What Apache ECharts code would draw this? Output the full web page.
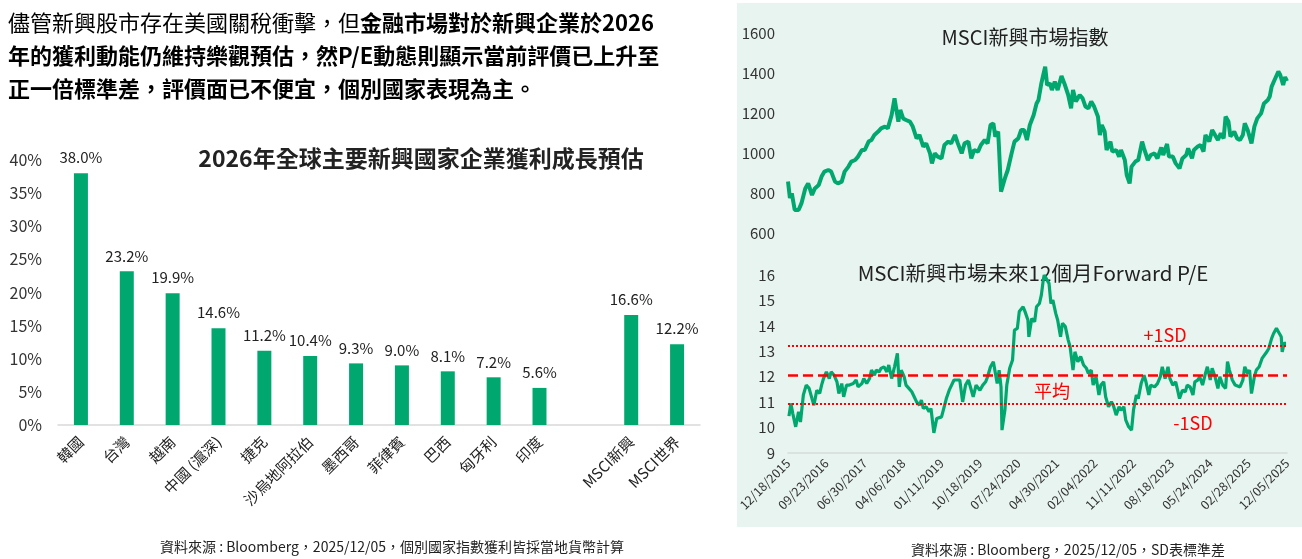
<!DOCTYPE html>
<html>
<head>
<meta charset="utf-8">
<script src="https://cdn.jsdelivr.net/npm/echarts@6/dist/echarts.min.js"></script>
<style>
  html, body { margin: 0; padding: 0; background: #fff; }
  #main { width: 1302px; height: 559px; }
</style>
</head>
<body>
<div id="main"></div>
<script>
  // 獲利成長預估 (%)
  var countries = ['韓國', '台灣', '越南', '中國 (滬深)', '捷克', '沙烏地阿拉伯', '墨西哥', '菲律賓', '巴西', '匈牙利', '印度', '', 'MSCI新興', 'MSCI世界'];
  var growth = [38.0, 23.2, 19.9, 14.6, 11.2, 10.4, 9.3, 9.0, 8.1, 7.2, 5.6, '-', 16.6, 12.2];

  // x 軸日期 (每 40 週一格)
  var dateLabels = ['12/18/2015', '09/23/2016', '06/30/2017', '04/06/2018', '01/11/2019', '10/18/2019', '07/24/2020',
    '04/30/2021', '02/04/2022', '11/11/2022', '08/18/2023', '05/24/2024', '02/28/2025', '12/05/2025'];

  // MSCI新興市場指數 [週數, 指數]
  var msciIndex = [[0,857],[2,775],[4,798],[7,715],[11,715],[14,748],[18,823],[21,848],[25,790],[28,823],[32,840],[35,882],
    [38,907],[42,915],[45,907],[49,857],[52,848],[56,857],[59,907],[63,932],[66,957],[70,965],[73,982],[77,1015],[80,1015],
    [84,1057],[87,1065],[90,1090],[94,1107],[97,1123],[101,1132],[104,1123],[108,1190],[111,1273],[115,1157],[117,1215],
    [120,1173],[123,1165],[127,1157],[130,1132],[134,1073],[137,1090],[141,1032],[144,1048],[148,998],[150,948],[153,998],
    [156,982],[160,973],[163,1040],[167,1057],[170,1048],[174,1090],[177,1048],[181,998],[184,1048],[188,1057],[191,973],
    [194,1015],[198,1007],[201,1040],[205,1065],[208,1048],[211,1140],[214,1148],[216,1082],[219,1107],[220,1015],[222,807],
    [226,873],[229,915],[233,998],[236,1057],[240,1073],[243,1115],[246,1115],[249,1065],[252,1140],[256,1190],[259,1248],
    [261,1265],[264,1348],[266,1390],[268,1432],[270,1340],[273,1348],[275,1315],[278,1357],[281,1315],[285,1385],[288,1348],
    [292,1290],[295,1223],[297,1315],[300,1257],[304,1290],[307,1273],[310,1232],[313,1223],[316,1257],[319,1232],[321,1240],
    [323,1182],[325,1090],[327,1140],[330,1107],[332,1015],[336,1057],[338,1007],[342,1015],[345,982],[347,1015],[351,965],
    [353,890],[356,848],[358,932],[362,957],[365,965],[369,1057],[371,1023],[375,965],[378,990],[382,998],[385,973],[389,1028],
    [391,990],[395,1045],[397,982],[401,982],[404,948],[408,923],[411,973],[415,990],[417,1023],[421,973],[423,1015],[427,1032],
    [430,1040],[433,1007],[435,1090],[439,1057],[442,1115],[445,1090],[448,1065],[451,1098],[454,1073],[456,1182],[459,1157],
    [461,1082],[465,1107],[468,1073],[471,1065],[474,1090],[476,1148],[479,1115],[481,1123],[483,1048],[486,1132],[489,1173],
    [493,1198],[496,1248],[500,1265],[502,1282],[504,1332],[507,1365],[509,1373],[511,1407],[513,1390],[516,1340],[518,1380],[520,1360]];

  // 未來12個月 Forward P/E [週數, P/E]
  var forwardPE = [[1,10.45],[3,10.95],[5,10.55],[8,10.03],[11,10.62],[13,10.22],[16,11.28],[19,11.67],[22,11.54],[25,11.14],
    [27,10.88],[30,11.47],[33,11.34],[35,11.67],[37,11.93],[40,12.19],[43,11.93],[45,12.19],[48,12.06],[51,11.80],[53,11.34],
    [56,11.73],[58,11.21],[61,11.67],[64,11.67],[68,11.73],[71,11.87],[73,11.60],[77,11.73],[79,11.93],[82,11.73],[85,11.93],
    [87,12.26],[90,12.06],[92,12.26],[95,12.19],[97,12.33],[100,12.39],[103,12.19],[105,12.46],[108,11.93],[111,12.39],
    [114,12.92],[116,11.60],[118,12.26],[121,12.00],[123,11.67],[126,11.54],[129,11.41],[131,11.34],[134,11.01],[137,10.88],
    [139,11.08],[141,10.75],[144,10.82],[147,10.62],[149,10.75],[152,9.79],[155,10.36],[157,10.29],[160,10.42],[162,10.36],
    [165,11.14],[168,11.47],[170,11.54],[173,11.87],[175,11.93],[179,11.87],[182,11.01],[185,11.67],[188,11.87],[190,11.87],
    [193,11.21],[196,11.67],[198,11.73],[200,11.47],[203,11.67],[206,11.80],[208,12.00],[211,12.39],[214,12.59],[216,12.59],
    [218,11.73],[220,12.26],[222,11.60],[223,9.90],[226,10.68],[228,11.67],[231,12.33],[234,12.66],[236,13.83],[239,13.90],
    [241,14.56],[243,14.62],[245,14.75],[247,14.56],[250,14.23],[251,13.57],[254,14.29],[257,14.16],[259,14.75],[262,14.88],
    [264,15.21],[266,15.80],[267,16.0],[270,15.80],[272,15.67],[274,14.88],[276,15.01],[279,14.49],[281,14.23],[284,13.57],
    [286,14.10],[289,13.97],[292,13.44],[294,13.18],[297,12.26],[299,12.98],[302,12.59],[305,12.79],[308,12.46],[311,12.33],
    [313,12.13],[316,12.26],[318,11.67],[321,12.00],[324,11.28],[326,11.67],[329,11.80],[331,11.21],[334,10.82],[337,11.01],
    [339,10.88],[342,10.49],[345,10.82],[347,10.68],[350,10.82],[352,10.29],[355,10.03],[358,9.90],[360,10.68],[363,11.28],
    [365,11.14],[368,11.73],[371,12.06],[373,11.80],[376,11.28],[378,11.67],[382,11.60],[385,11.73],[388,12.00],[390,12.39],
    [393,11.93],[396,12.39],[398,11.93],[401,11.67],[404,11.80],[406,11.47],[408,11.14],[411,11.47],[414,11.41],[416,11.67],
    [419,11.60],[422,11.28],[424,11.80],[427,11.87],[429,12.00],[432,11.67],[435,12.13],[437,12.39],[440,11.87],[442,12.33],
    [445,12.00],[448,11.54],[450,12.00],[453,11.67],[456,11.54],[458,12.59],[460,12.26],[463,11.87],[466,11.67],[468,11.73],
    [471,11.60],[474,11.87],[476,12.39],[479,12.13],[481,12.26],[483,11.34],[486,12.00],[488,12.26],[491,12.39],[494,12.72],
    [496,12.72],[499,12.98],[501,13.11],[504,13.51],[506,13.70],[509,13.90],[511,13.77],[514,13.57],[515,12.98],[517,13.31],[519,13.31]];

  // 平均與正負一個標準差
  var peMean = 12.06;
  var peSD = 1.14;

  var font = 'Noto Sans CJK TC';
  var green = '#00a870';
  var red = '#ff0000';

  var myChart = echarts.init(document.getElementById('main'));
  var option = {
    backgroundColor: '#fff',
    textStyle: { fontFamily: font },
    animation: false,
    grid: [
      { left: 58, right: 602, top: 160, bottom: 134 },
      { left: 788, right: 15, top: 33, bottom: 326 },
      { left: 788, right: 15, top: 275, bottom: 106 }
    ],
    xAxis: [
      {
        gridIndex: 0, type: 'category', data: countries,
        axisTick: { show: false },
        axisLine: { lineStyle: { color: '#d9d9d9', width: 1.5 } },
        axisLabel: { rotate: 45, interval: 0, fontSize: 15, color: '#222', margin: 14 }
      },
      { gridIndex: 1, type: 'value', min: 0, max: 520, show: false },
      {
        gridIndex: 2, type: 'value', min: 0, max: 520, interval: 40,
        splitLine: { show: false },
        axisTick: { show: false },
        axisLine: { lineStyle: { color: '#d3dcd8', width: 1.5 } },
        axisLabel: {
          rotate: 45, fontSize: 12.5, color: '#333', margin: 8,
          formatter: function (v) { return dateLabels[Math.round(v / 40)] || ''; }
        }
      }
    ],
    yAxis: [
      {
        gridIndex: 0, type: 'value', min: 0, max: 40, interval: 5,
        splitLine: { show: false }, axisLine: { show: false }, axisTick: { show: false },
        axisLabel: { formatter: '{value}%', fontSize: 16, color: '#333', margin: 16 }
      },
      {
        gridIndex: 1, type: 'value', min: 600, max: 1600, interval: 200,
        splitLine: { show: false }, axisLine: { show: false }, axisTick: { show: false },
        axisLabel: { fontSize: 15, color: '#333', margin: 13, formatter: function (v) { return String(v); } }
      },
      {
        gridIndex: 2, type: 'value', min: 9, max: 16, interval: 1,
        splitLine: { show: false }, axisLine: { show: false }, axisTick: { show: false },
        axisLabel: { fontSize: 15, color: '#333', margin: 13 }
      }
    ],
    graphic: [
      { type: 'rect', z: -10, shape: { x: 737, y: 3, width: 565, height: 524 }, style: { fill: '#e8f4f0' } },
      {
        type: 'text', x: 8, y: 6,
        style: {
          text: '{n|儘管新興股市存在美國關稅衝擊，但}{r|金融市場對於新興企業於2026}\n' +
                '{r|年的獲利動能仍維持樂觀預估}{b|，然P/E動態則顯示當前評價已上升至}\n' +
                '{b|正一倍標準差，評價面已不便宜，個別國家表現為主。}',
          rich: {
            n: { fontSize: 22, fontFamily: font, color: '#222', lineHeight: 33 },
            b: { fontSize: 22, fontFamily: font, color: '#222', fontWeight: 'bold', lineHeight: 33 },
            r: { fontSize: 22, fontFamily: font, color: red, fontWeight: 'bold', lineHeight: 33 }
          }
        }
      },
      {
        type: 'text', x: 421, y: 158,
        style: { text: '2026年全球主要新興國家企業獲利成長預估', fontSize: 23, fontWeight: 'bold', fontFamily: font,
          fill: '#222', align: 'center', verticalAlign: 'middle' }
      },
      {
        type: 'text', x: 1025, y: 37,
        style: { text: 'MSCI新興市場指數', fontSize: 20, fontFamily: font, fill: '#222', align: 'center', verticalAlign: 'middle' }
      },
      {
        type: 'text', x: 1033, y: 273,
        style: { text: 'MSCI新興市場未來12個月Forward P/E', fontSize: 20.5, fontFamily: font, fill: '#222', align: 'center', verticalAlign: 'middle' }
      },
      {
        type: 'text', x: 1165, y: 335,
        style: { text: '+1SD', fontSize: 18, fontFamily: font, fill: red, align: 'center', verticalAlign: 'middle' }
      },
      {
        type: 'text', x: 1052, y: 391,
        style: { text: '平均', fontSize: 18, fontFamily: font, fill: red, align: 'center', verticalAlign: 'middle' }
      },
      {
        type: 'text', x: 1193, y: 423,
        style: { text: '-1SD', fontSize: 18, fontFamily: font, fill: red, align: 'center', verticalAlign: 'middle' }
      },
      {
        type: 'text', x: 392, y: 547,
        style: { text: '資料來源 : Bloomberg，2025/12/05，個別國家指數獲利皆採當地貨幣計算', fontSize: 14, fontFamily: font,
          fill: '#222', align: 'center', verticalAlign: 'middle' }
      },
      {
        type: 'text', x: 1068, y: 550,
        style: { text: '資料來源 : Bloomberg，2025/12/05，SD表標準差', fontSize: 14, fontFamily: font,
          fill: '#222', align: 'center', verticalAlign: 'middle' }
      }
    ],
    series: [
      {
        name: '獲利成長', type: 'bar', xAxisIndex: 0, yAxisIndex: 0,
        data: growth, barWidth: 14,
        itemStyle: { color: green },
        label: {
          show: true, position: 'top', distance: 8, fontSize: 15, color: '#222',
          formatter: function (p) { return p.value.toFixed(1) + '%'; }
        }
      },
      {
        name: 'MSCI新興市場指數', type: 'line', xAxisIndex: 1, yAxisIndex: 1,
        data: msciIndex, showSymbol: false,
        lineStyle: { color: green, width: 4 }
      },
      {
        name: 'Forward P/E', type: 'line', xAxisIndex: 2, yAxisIndex: 2,
        data: forwardPE, showSymbol: false,
        lineStyle: { color: green, width: 3.2 },
        markLine: {
          silent: true, symbol: 'none', label: { show: false },
          data: [
            { yAxis: peMean + peSD, lineStyle: { color: red, type: 'dotted', width: 2 } },
            { yAxis: peMean, lineStyle: { color: red, type: [10, 5], width: 2.5 } },
            { yAxis: peMean - peSD, lineStyle: { color: red, type: 'dotted', width: 2 } }
          ]
        }
      }
    ]
  };
  myChart.setOption(option);
</script>
</body>
</html>
